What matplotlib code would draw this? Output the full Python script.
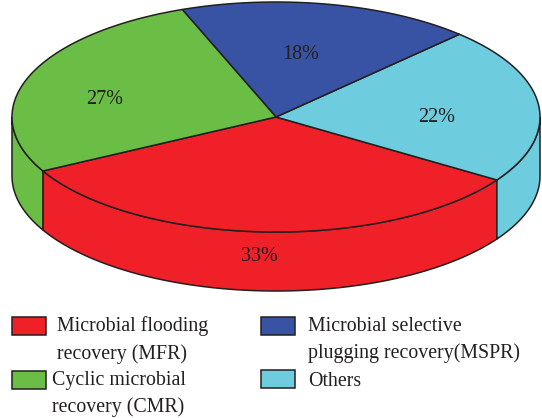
import numpy as np
import matplotlib
matplotlib.use("Agg")
import matplotlib.pyplot as plt
from matplotlib.patches import Polygon, Rectangle

plt.rcParams['font.family'] = ['Liberation Serif', 'DejaVu Serif']

# slices, counter clockwise starting from the red one
names = ["MFR", "Others", "MSPR", "CMR"]
values = [33, 22, 18, 27]
labels = ["33%", "22%", "18%", "27%"]
colors = ["#EF2028", "#6DCCDD", "#3953A4", "#6ABD45"]

legend_text = ["Microbial flooding\nrecovery (MFR)", "Cyclic microbial\nrecovery (CMR)",
               "Microbial selective\nplugging recovery(MSPR)", "Others"]
legend_colors = ["#EF2028", "#6ABD45", "#3953A4", "#6DCCDD"]

ink = "#231F20"
cx, cy, rx, ry, depth = 276, 117, 264, 115, 59
start = 208


def rim(a, b, dy=0):
    t = np.radians(np.linspace(a, b, 200))
    return np.column_stack([cx + rx*np.cos(t), cy - ry*np.sin(t) + dy])


fig = plt.figure(figsize=(5.42, 4.18), dpi=100)
ax = fig.add_axes([0, 0, 1, 1])
ax.set_xlim(0, 542)
ax.set_ylim(418, 0)
ax.axis("off")

edges = start + np.concatenate([[0], np.cumsum(values)]) * 360.0 / sum(values)

# side wall, only the front half shows
for i in range(len(values)):
    for off in [0, 360]:
        a = max(edges[i] - off, 180)
        b = min(edges[i+1] - off, 360)
        if b > a:
            pts = np.vstack([rim(a, b), rim(b, a, depth)])
            ax.add_patch(Polygon(pts, closed=True, fc=colors[i], ec=ink, lw=1.1, joinstyle="round"))

# top face
for i in range(len(values)):
    pts = np.vstack([[[cx, cy]], rim(edges[i], edges[i+1])])
    ax.add_patch(Polygon(pts, closed=True, fc=colors[i], ec=ink, lw=1.1, joinstyle="round"))

label_x = [259, 437, 301, 105]
label_y = [256.5, 117.5, 54.5, 99.5]
for i in range(len(labels)):
    ax.text(label_x[i], label_y[i], labels[i], fontsize=14.5, color=ink, ha="center", va="center")

# legend
box_x = [12, 12, 261, 261]
box_y = [317, 371, 317, 370]
text_x = [57, 52, 308, 308]
text_y = [340, 394, 340, 381]
for i in range(4):
    ax.add_patch(Rectangle((box_x[i], box_y[i]), 33.5, 17.5, fc=legend_colors[i], ec=ink, lw=1.1))
    ax.text(text_x[i], text_y[i], legend_text[i], fontsize=14.3, color=ink, ha="left", va="center",
            linespacing=1.55)

fig.savefig("out.png", dpi=100)
